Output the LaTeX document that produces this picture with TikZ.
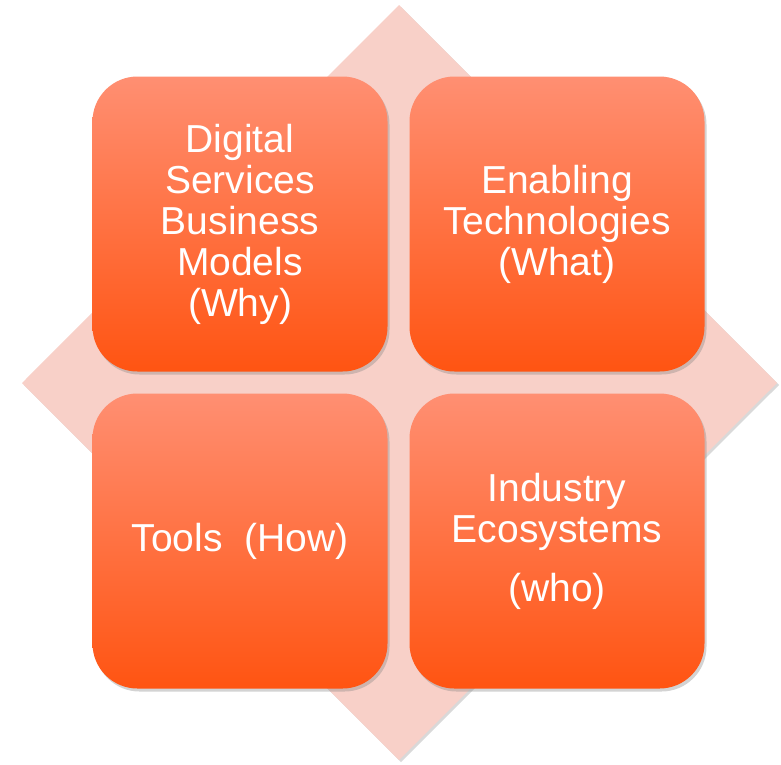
\documentclass[tikz,border=0pt]{standalone}
\usepackage{fontspec}
\setmainfont{Liberation Sans}
\usetikzlibrary{shadows}

\definecolor{diamondpink}{HTML}{F8D0C8}
\definecolor{boxtop}{HTML}{FF8F72}
\definecolor{boxbottom}{HTML}{FF5412}

\tikzset{
    quadbox/.style={rectangle, rounded corners=45pt,
        minimum width=295pt, minimum height=295pt,
        top color=boxtop, bottom color=boxbottom,
        text=white, align=center,
        font=\fontsize{39}{41}\selectfont,
        drop shadow={shadow xshift=2pt, shadow yshift=-3pt, opacity=.35}},
}

\begin{document}
\begin{tikzpicture}[x=1pt, y=-1pt]
    \useasboundingbox (0,0) rectangle (781,764);
    % background diamond
    \fill[diamondpink, drop shadow={shadow xshift=2pt, shadow yshift=-2pt, opacity=.3}]
        (399,5) -- (777,383) -- (399,760) -- (22,383) -- cycle;
    % the four quadrants
    \node[quadbox] (why) at (240,224) {Digital\\Services\\Business\\Models\\(Why)};
    \node[quadbox] (what) at (557,224) {Enabling\\Technologies\\(What)};
    \node[quadbox] (how) at (240,541) {Tools~~(How)};
    \node[quadbox] (who) at (557,541) {Industry\\Ecosystems\\[18pt](who)};
\end{tikzpicture}
\end{document}
